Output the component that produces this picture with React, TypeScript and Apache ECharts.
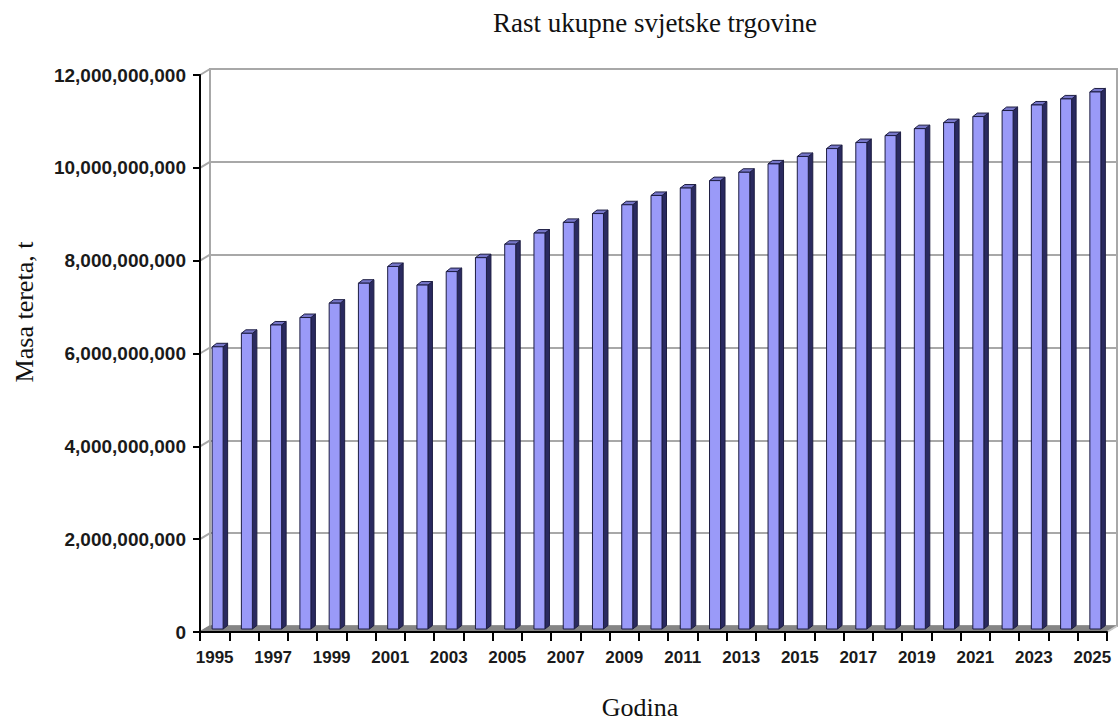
import React, { useEffect, useRef } from "react";
import * as echarts from "echarts";

const years: string[] = [
  "1995", "1996", "1997", "1998", "1999", "2000", "2001", "2002", "2003", "2004",
  "2005", "2006", "2007", "2008", "2009", "2010", "2011", "2012", "2013", "2014",
  "2015", "2016", "2017", "2018", "2019", "2020", "2021", "2022", "2023", "2024", "2025",
];

const cargoMass: number[] = [
  6.08e9, 6.37e9, 6.55e9, 6.71e9, 7.02e9, 7.45e9, 7.81e9, 7.41e9, 7.7e9, 8.0e9,
  8.29e9, 8.53e9, 8.76e9, 8.95e9, 9.14e9, 9.34e9, 9.5e9, 9.66e9, 9.84e9, 10.02e9,
  10.18e9, 10.35e9, 10.48e9, 10.63e9, 10.78e9, 10.91e9, 11.04e9, 11.17e9, 11.29e9, 11.42e9, 11.57e9,
];

const yTicks: number[] = [0, 2e9, 4e9, 6e9, 8e9, 10e9, 12e9];

const titleText = "Rast ukupne svjetske trgovine";
const xName = "Godina";
const yName = "Masa tereta, t";

const fmt = (n: number) => String(Math.round(n)).replace(/\B(?=(\d{3})+(?!\d))/g, ",");

export default function App() {
  const ref = useRef<HTMLDivElement>(null);

  useEffect(() => {
    if (!ref.current) return;
    const chart = echarts.init(ref.current, undefined, { renderer: "svg" });
    const DX = 10;
    const DY = -6;
    const serif = "'Liberation Serif', 'DejaVu Serif', serif";
    const sans = "'Liberation Sans', Arial, sans-serif";

    const option: any = {
      animation: false,
      backgroundColor: "#ffffff",
      grid: [
        { left: 200, top: 75, width: 907, height: 557, containLabel: false },
        {
          left: 200 + DX, top: 75 + DY, width: 907, height: 557, containLabel: false,
          show: true, borderColor: "#a8a8a8", borderWidth: 2, backgroundColor: "transparent",
        },
      ],
      xAxis: [
        {
          type: "category",
          gridIndex: 0,
          data: years,
          z: 10,
          axisLine: { show: true, lineStyle: { color: "#000", width: 2 } },
          axisTick: { show: true, interval: 0, length: 9, lineStyle: { color: "#000", width: 2 } },
          axisLabel: {
            interval: 1, margin: 17, color: "#1a1a1a", fontSize: 17, fontWeight: "bold", fontFamily: sans,
          },
          splitLine: { show: false },
        },
        {
          type: "category",
          gridIndex: 1,
          data: years,
          show: false,
        },
      ],
      yAxis: [
        {
          type: "value",
          gridIndex: 0,
          min: 0,
          max: 12e9,
          interval: 2e9,
          z: 10,
          axisLine: { show: true, lineStyle: { color: "#000", width: 2 } },
          axisTick: { show: true, length: 7, lineStyle: { color: "#000", width: 2 } },
          axisLabel: {
            margin: 14, color: "#1a1a1a", fontSize: 19, fontWeight: "bold", fontFamily: sans,
            formatter: (v: number) => fmt(v),
          },
          splitLine: { show: false },
        },
        {
          type: "value",
          gridIndex: 1,
          min: 0,
          max: 12e9,
          interval: 2e9,
          axisLine: { show: false },
          axisTick: { show: false },
          axisLabel: { show: false },
          splitLine: { show: true, lineStyle: { color: "#a8a8a8", width: 2 } },
        },
      ],
      graphic: [
        {
          type: "text", x: 655, y: 23, z: 20,
          style: { text: titleText, font: `27px ${serif}`, fill: "#111", textAlign: "center", textVerticalAlign: "middle" },
        },
        {
          type: "text", x: 640, y: 707, z: 20,
          style: { text: xName, font: `26px ${serif}`, fill: "#111", textAlign: "center", textVerticalAlign: "middle" },
        },
        {
          type: "text", x: 24, y: 312, rotation: Math.PI / 2, z: 20,
          style: { text: yName, font: `26px ${serif}`, fill: "#111", textAlign: "center", textVerticalAlign: "middle" },
        },
      ],
      series: [
        {
          type: "custom",
          xAxisIndex: 0,
          yAxisIndex: 0,
          z: 1,
          clip: false,
          silent: true,
          data: [[0, 0]],
          renderItem: (params: any, api: any) => {
            const cs = params.coordSys;
            const x0 = cs.x;
            const x1 = cs.x + cs.width;
            const y0 = cs.y + cs.height;
            const children: any[] = [
              {
                type: "polygon",
                shape: { points: [[x0, y0], [x1, y0], [x1 + DX, y0 + DY], [x0 + DX, y0 + DY]] },
                style: { fill: "#858585", stroke: "#858585", lineWidth: 1 },
              },
              {
                type: "line",
                shape: { x1: x1, y1: y0, x2: x1 + DX, y2: y0 + DY },
                style: { stroke: "#c8c8c8", lineWidth: 2 },
              },
            ];
            yTicks.forEach((t) => {
              const p = api.coord([0, t]);
              children.push({
                type: "line",
                shape: { x1: x0, y1: p[1], x2: x0 + DX, y2: p[1] + DY },
                style: { stroke: t === 0 ? "#858585" : "#a8a8a8", lineWidth: 2 },
              });
            });
            return { type: "group", children };
          },
        },
        {
          type: "custom",
          xAxisIndex: 0,
          yAxisIndex: 0,
          z: 3,
          clip: false,
          data: cargoMass.map((v, i) => [i, v]),
          encode: { x: 0, y: 1 },
          renderItem: (params: any, api: any) => {
            const idx = api.value(0);
            const v = api.value(1);
            const base = api.coord([idx, 0]);
            const top = api.coord([idx, v]);
            const cx = base[0];
            const w = 11;
            const fl = cx - 2.5;
            const fr = fl + w;
            const fb = base[1] - 3;
            const ft = top[1] - 3;
            const ddx = 4.5;
            const ddy = -3.5;
            const stroke = "#1d1d42";
            return {
              type: "group",
              children: [
                {
                  type: "polygon",
                  shape: { points: [[fr, fb], [fr + ddx, fb + ddy], [fr + ddx, ft + ddy], [fr, ft]] },
                  style: { fill: "#2a2a60", stroke, lineWidth: 1 },
                },
                {
                  type: "polygon",
                  shape: { points: [[fl, ft], [fl + ddx, ft + ddy], [fr + ddx, ft + ddy], [fr, ft]] },
                  style: { fill: "#7676c8", stroke, lineWidth: 1 },
                },
                {
                  type: "rect",
                  shape: { x: fl, y: ft, width: w, height: fb - ft },
                  style: { fill: "#9a9af8", stroke, lineWidth: 1 },
                },
              ],
            };
          },
        },
      ],
    };

    chart.setOption(option);
    return () => chart.dispose();
  }, []);

  return (
    <div
      ref={ref}
      style={{ position: "fixed", left: 0, top: 0, width: 1120, height: 721, background: "#fff" }}
    />
  );
}
